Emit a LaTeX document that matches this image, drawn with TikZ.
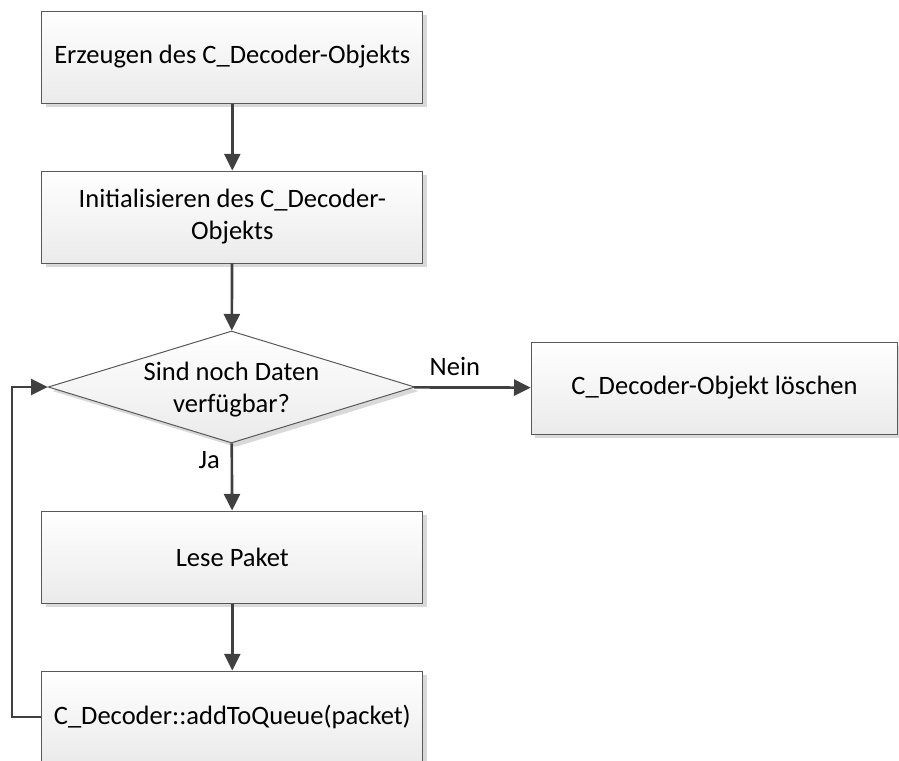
\documentclass[tikz,border=0pt]{standalone}
\usepackage{fontspec}
\setmainfont{Carlito}
\usetikzlibrary{shapes.geometric, arrows.meta, shadows}

\begin{document}
\begin{tikzpicture}[x=0.75pt, y=-0.75pt,
        font=\fontsize{19.9}{24}\selectfont,
        box/.style={draw=black!65, line width=0.75pt, top color=white, bottom color=black!8,
                    minimum width=286pt, minimum height=69pt, align=center,
                    drop shadow={shadow xshift=3pt, shadow yshift=-3pt, fill=black!15, opacity=1}},
        flow/.style={draw=black!75, line width=2pt, -{Triangle[length=12.5pt, width=12pt]}}]
    \useasboundingbox (0,0) rectangle (899,760);

    \foreach \n/\y/\lbl in {erzeugen/57/{Erzeugen des C\_Decoder-Objekts},
                            init/217/{Initialisieren des C\_Decoder-\\Objekts},
                            lesen/557/{Lese Paket},
                            queue/717/{C\_Decoder::addToQueue(packet)}} {
        \node[box] (\n) at (232.3, \y) {\lbl};
    }

    \node[diamond, draw=black!65, line width=0.75pt, top color=white, bottom color=black!8,
          minimum width=275pt, minimum height=84pt, inner sep=0pt,
          drop shadow={shadow xshift=3pt, shadow yshift=-3pt, fill=black!15, opacity=1}]
        (daten) at (231.5, 387) {};
    \node[align=center] (frage) at (231.5, 390) {Sind noch Daten\\verfügbar?};

    \node[box, minimum width=275pt] (loeschen) at (714.5, 388) {C\_Decoder-Objekt löschen};

    \foreach \a/\b in {erzeugen/init, init/daten, lesen/queue}
        \draw[flow] (\a) -- (\b);
    \draw[flow] (daten) -- node[pos=0.25, left, inner sep=8pt] (ja) {Ja} (lesen);
    \draw[flow] (daten) -- node[pos=0.35, above, inner sep=8pt] (nein) {Nein} (loeschen);
    \draw[flow] (queue.west) -- ++(-29,0) |- (daten.west);
\end{tikzpicture}
\end{document}
